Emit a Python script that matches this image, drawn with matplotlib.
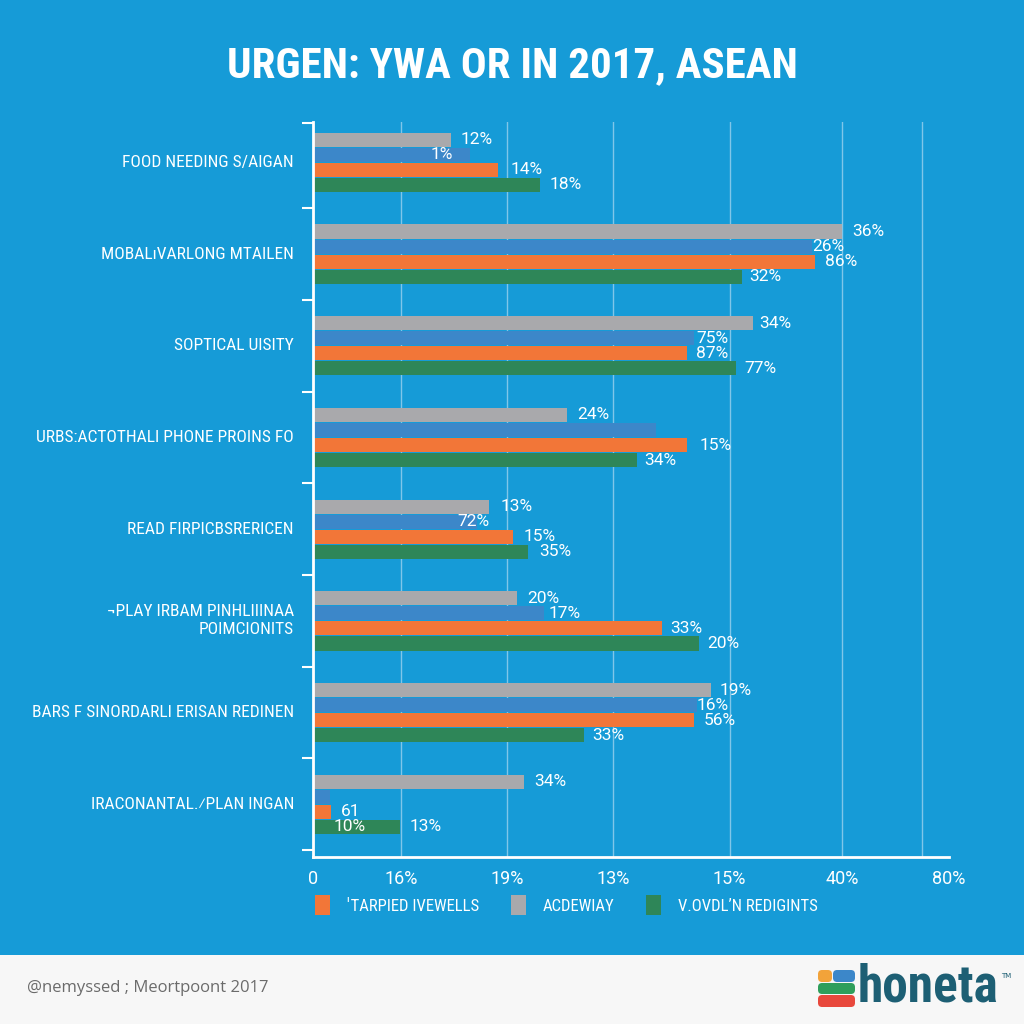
import numpy as np
import matplotlib
matplotlib.use('Agg')
import matplotlib.pyplot as plt
from matplotlib import font_manager as fm
from matplotlib.patches import Patch, FancyBboxPatch, Rectangle

# --- data ---
categories = ['FOOD NEEDING S/AIGAN', 'MOBAL\u0131VARLONG MTAILEN', 'SOPTICAL UISITY',
              'URBS:ACTOTHALI PHONE PROINS FO', 'READ FIRPICBSRERICEN',
              '\u00acPLAY IRBAM PINHLIIINAA\nPOIMCIONITS', 'BARS F SINORDARLI ERISAN REDINEN',
              'IRACONANTAL.\u2044PLAN INGAN']

gray_vals = [17.3, 66.6, 55.3, 31.9, 22.2, 25.7, 50.1, 26.6]
blue_vals = [19.8, 62.8, 47.9, 43.2, 20.6, 29.0, 48.3, 2.1]
orange_vals = [23.3, 63.1, 47.1, 47.1, 25.2, 43.9, 47.9, 2.3]
green_vals = [28.6, 54.0, 53.2, 40.8, 27.1, 48.6, 34.1, 11.0]

gray_labels = ['12%', '36%', '34%', '24%', '13%', '20%', '19%', '34%']
blue_labels = ['1%', '26%', '75%', '', '72%', '17%', '16%', '']
orange_labels = ['14%', '86%', '87%', '15%', '15%', '33%', '56%', '61']
green_labels = ['18%', '32%', '77%', '34%', '35%', '20%', '33%', '13%']

tick_pos = [0, 11.1, 24.4, 37.7, 52.4, 66.6, 80]
tick_labels = ['0', '16%', '19%', '13%', '15%', '40%', '80%']
grid_pos = [11.1, 24.4, 37.7, 52.4, 66.6, 76.6]

legend_labels = ['\u02c8TARPIED IVEWELLS', 'ACDEWIAY', 'V.OVDL\u02bcN REDIGINTS']

# --- styling ---
BG = '#169BD7'
C_GRAY = '#A9A9AC'
C_BLUE = '#3C87C9'
C_ORANGE = '#F27638'
C_GREEN = '#2E8658'

# pick a narrow face if one is installed, else Arial-like Liberation Sans
avail = {f.name for f in fm.fontManager.ttflist}
narrow = next((n for n in ['Liberation Sans Narrow', 'Arial Narrow', 'Roboto Condensed',
                           'Open Sans Condensed', 'Noto Sans Condensed'] if n in avail), None)
if narrow:
    NARROW = [narrow, 'DejaVu Sans']
    s_cat, s_leg, s_title, s_logo = 12.5, 12, 31, 37
else:
    NARROW = ['Liberation Sans', 'DejaVu Sans']
    s_cat, s_leg, s_title, s_logo = 11, 10.5, 28, 30

# label x-offsets in pixels relative to bar end
gray_off = [10, 10, 7, 11, 11, 10, 8, 10]
blue_off = [-40, 0, 3, 0, -19, 5, 0, 0]
orange_off = [12, 10, 9, 12, 10, 8, 10, 10]
green_off = [9, 7, 8, 7, 11, 8, 8, 9]

fig = plt.figure(figsize=(10.24, 10.24), dpi=100)
fig.patch.set_facecolor(BG)

# light footer strip
fig.patches.append(Rectangle((0, 0), 1, 69 / 1024, transform=fig.transFigure,
                             facecolor='#F7F7F7', edgecolor='none', zorder=0))

ax = fig.add_axes([313 / 1024, 1 - 857 / 1024, (949 - 313) / 1024, (857 - 122) / 1024])
ax.set_facecolor(BG)

y = np.arange(len(categories))
pitch = 0.164
bh = 0.153
series = [
    (gray_vals, gray_labels, gray_off, C_GRAY, -1.5),
    (blue_vals, blue_labels, blue_off, C_BLUE, -0.5),
    (orange_vals, orange_labels, orange_off, C_ORANGE, 0.5),
    (green_vals, green_labels, green_off, C_GREEN, 1.5),
]
for vals, labs, offs, col, k in series:
    yy = y + k * pitch
    ax.barh(yy, vals, height=bh, color=col, zorder=2)
    for v, yc, lab, o in zip(vals, yy, labs, offs):
        if lab:
            ax.annotate(lab, (v, yc), xytext=(o, 0), textcoords='offset pixels',
                        ha='left', va='center', color='white', fontsize=12.5,
                        family='Roboto', zorder=4)

# stray label in the last group
ax.annotate('10%', (green_vals[7], y[7] + 1.5 * pitch), xytext=(-67, 0),
            textcoords='offset pixels', ha='left', va='center', color='white',
            fontsize=12.5, family='Roboto', zorder=4)

for g in grid_pos:
    ax.axvline(g, color='#9BD2EE', lw=1, alpha=0.8, zorder=1)

ax.set_xlim(0, 80)
ax.set_ylim(7.574, -0.44)
ax.set_xticks(tick_pos)
ax.set_xticklabels(tick_labels, color='white', fontsize=13, family='Roboto')
ax.tick_params(axis='x', length=0, pad=9)
ax.set_yticks([-0.43] + list(y + 0.5))
ax.set_yticklabels([])
ax.tick_params(axis='y', length=8, width=1.5, color='white', direction='out')

for yc, name in zip(y, categories):
    ax.text(-0.03, yc, name, transform=ax.get_yaxis_transform(), ha='right',
            va='center', color='white', fontsize=s_cat, family=NARROW,
            linespacing=1.25)

for s in ['top', 'right']:
    ax.spines[s].set_visible(False)
for s in ['left', 'bottom']:
    ax.spines[s].set_color('white')
    ax.spines[s].set_linewidth(2)

# title
fig.text(0.5, 1 - 66 / 1024, 'URGEN: YWA OR IN 2017, ASEAN', ha='center', va='center',
         color='white', fontsize=s_title, fontweight='bold', family=NARROW)

# legend
handles = [Patch(facecolor=C_ORANGE), Patch(facecolor=C_GRAY), Patch(facecolor=C_GREEN)]
fig.legend(handles, legend_labels, loc='center', bbox_to_anchor=(566 / 1024, 1 - 905 / 1024),
           ncol=3, frameon=False, handlelength=0.9, handleheight=1.4, handletextpad=1.0,
           columnspacing=1.9, labelcolor='white', prop={'family': NARROW, 'size': s_leg})

# footer
fig.text(27 / 1024, 1 - 988 / 1024, '@nemyssed ; Meortpoont 2017', ha='left', va='center',
         color='#6B6B6B', fontsize=12, family='Open Sans')
for (x0, y0, w, h, c) in [(818, 970, 14, 12, '#F2A33A'), (833, 970, 22, 12, '#3C87C9'),
                          (818, 983, 37, 11, '#2E9E5B'), (818, 995, 37, 12, '#E8483C')]:
    fig.patches.append(FancyBboxPatch((x0 / 1024, 1 - (y0 + h) / 1024), w / 1024, h / 1024,
                                      boxstyle='round,pad=0,rounding_size=0.004',
                                      transform=fig.transFigure, facecolor=c,
                                      edgecolor='none', zorder=3))
logo = fig.text(858 / 1024, 1 - 988 / 1024, 'honeta', ha='left', va='center', color='#1D5F74',
                fontsize=s_logo, fontweight='bold', family=NARROW)
fig.canvas.draw()
bb = logo.get_window_extent()
fig.text((bb.x1 + 2) / 1024, 1 - 976 / 1024, 'TM', ha='left', va='center', color='#1D5F74',
         fontsize=5, family='DejaVu Sans')

fig.savefig('out.png', dpi=100, facecolor=fig.get_facecolor())
